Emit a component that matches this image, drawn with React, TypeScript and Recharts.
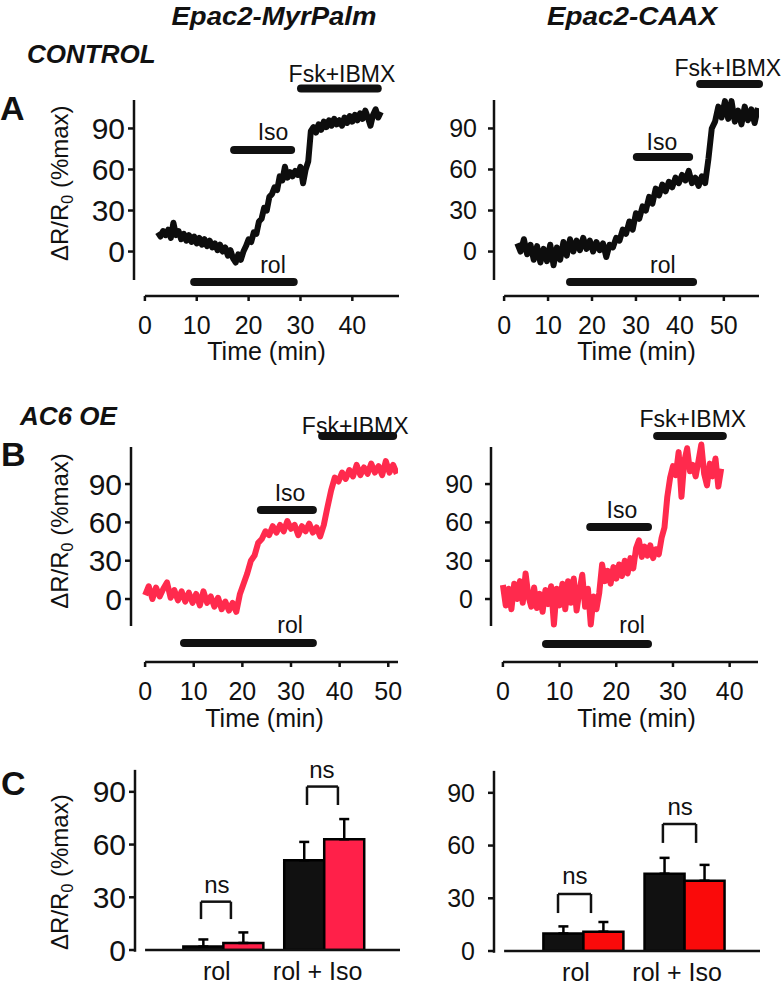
import React from "react";
import {
  ComposedChart,
  Line,
  Bar,
  XAxis,
  YAxis,
  ReferenceLine,
  ReferenceDot,
  ErrorBar,
} from "recharts";

const FONT = '"Liberation Sans", Arial, Helvetica, sans-serif';
const INK = "#111111";
const TRACE_BLACK = "#0d0d0d";
const TRACE_RED = "#ff2a4d";
const BAR_RED_MYR = "#ff2049";
const BAR_RED_CAAX = "#fa0a0a";

// ---- traces, ΔR/R0 (%max), sampled every `step` min from `start` ----
const aMyrStart = 2.5;
const aMyrStep = 0.5;
const aMyrValues = [
  14, 11, 15, 12, 16, 10, 21, 12, 15, 9,
  13, 8, 12, 7, 11, 6, 10, 5, 9, 4,
  8, 3, 6, 1, 5, 0, 3, -3, 1, -5,
  -8, -2, -6, 0, 4, 9, 7, 14, 13, 22,
  24, 32, 30, 40, 42, 47, 45, 55, 52, 62,
  54, 58, 55, 59, 56, 62, 50, 60, 66, 88,
  91, 87, 93, 89, 95, 91, 96, 92, 97, 93,
  96, 92, 98, 94, 99, 95, 100, 96, 101, 97,
  103, 98, 92, 100, 104, 98, 102,
];

const aCaaxStart = 3;
const aCaaxStep = 0.75;
const aCaaxValues = [
  6, 0, 9, -2, 5, -6, 4, -8, 2, -7,
  5, -10, 3, -6, 7, -3, 9, 0, 8, 1,
  10, 2, 8, 0, 7, 1, 6, -4, 5, 3,
  10, 8, 16, 13, 22, 16, 28, 24, 33, 30,
  40, 35, 46, 41, 49, 44, 51, 47, 54, 50,
  56, 52, 59, 50, 54, 48, 55, 50, 68, 90,
  95, 106, 98, 110, 97, 110, 95, 103, 93, 106,
  96, 104, 94, 105,
];

const bMyrStart = 0;
const bMyrStep = 0.75;
const bMyrValues = [
  3, 10, 0, 9, 2, 8, 13, 1, 7, -1,
  6, -2, 5, -3, 4, -5, 6, -3, 2, -6,
  1, -8, -2, -9, -3, -10, 4, 12, 20, 30,
  34, 44, 47, 53, 50, 57, 52, 58, 53, 61,
  55, 58, 50, 57, 53, 59, 52, 56, 49, 58,
  72, 85, 95, 92, 99, 94, 101, 96, 105, 97,
  103, 98, 106, 99, 104, 97, 108, 99, 105, 98,
];

const bCaaxStart = 0;
const bCaaxStep = 0.5;
const bCaaxValues = [
  11, -5, 8, -8, 12, 0, 14, -3, 20, 2,
  -6, 9, -7, 4, -10, 7, -4, 10, -20, 8,
  -5, 12, -8, 14, -3, 16, -9, 6, 19, -6,
  8, -20, 2, -8, 5, 27, 14, 22, 12, 25,
  16, 27, 18, 30, 20, 32, 24, 40, 46, 33,
  41, 34, 42, 32, 39, 35, 48, 56, 80, 95,
  104, 97, 115, 80, 108, 118, 100, 105, 96, 108,
  121, 98, 89, 106, 96, 110, 88, 102,
];

// ---- drug application windows (min) ----
const drugNames = ["rol", "Iso", "Fsk+IBMX"];
const aMyrFrom = [9.5, 17.2, 30.1];
const aMyrTo = [28.7, 28.2, 44.9];
const aCaaxFrom = [15.0, 30.2, 44.6];
const aCaaxTo = [43.0, 42.1, 58.0];
const bMyrFrom = [8.0, 23.8, 36.4];
const bMyrTo = [34.5, 34.5, 51.0];
const bCaaxFrom = [7.6, 15.4, 27.2];
const bCaaxTo = [25.6, 25.6, 38.8];

// ---- summary bars (mean, SEM) ----
const conditions = ["rol", "rol + Iso"];
const cMyrControl = [2, 51];
const cMyrControlSem = [4, 10.5];
const cMyrAc6 = [4, 63];
const cMyrAc6Sem = [6, 11.5];
const cCaaxControl = [10, 44];
const cCaaxControlSem = [4, 9];
const cCaaxAc6 = [11, 40];
const cCaaxAc6Sem = [5.5, 9];

const yTicks = [0, 30, 60, 90];

const toSeries = (start: number, step: number, values: number[]) =>
  values.map((v, i) => ({ t: +(start + i * step).toFixed(3), v }));

const toDrugs = (from: number[], to: number[]) =>
  drugNames.map((name, i) => ({ name, from: from[i], to: to[i] }));

const toRows = (ctrl: number[], ctrlSem: number[], ac6: number[], ac6Sem: number[]) =>
  conditions.map((name, i) => ({
    name,
    pos: i + 1,
    control: ctrl[i],
    controlErr: [0, ctrlSem[i]],
    ac6: ac6[i],
    ac6Err: [0, ac6Sem[i]],
  }));

// ---- panel layouts (page px, data-space annotation spots) ----
const aMyrLayout = {
  left: 0, top: 30, width: 410, height: 340,
  plot: { l: 134, r: 399, t: 50.5, b: 296 },
  xDomain: [-2.1, 49], yDomain: [-32.5, 147],
  xTicks: [0, 10, 20, 30, 40], yAxisSpan: [-20.8, 110.8],
  drugRows: [-22.3, 74.2, 119.2],
  drugText: [[24.7, -9.9], [24.7, 87.4], [38, 130.1]],
  yTickFont: 30, yTickMargin: 3, xAxisHeight: 64, timeDx: 0,
  yLabel: true, yLabelDy: 10,
};
const aCaaxLayout = {
  left: 390, top: 30, width: 393, height: 340,
  plot: { l: 494, r: 759, t: 50.5, b: 296 },
  xDomain: [-2.3, 58], yDomain: [-32.5, 147],
  xTicks: [0, 10, 20, 30, 40, 50], yAxisSpan: [-20.8, 110.8],
  drugRows: [-22.3, 69.1, 122.5],
  drugText: [[36.1, -9.9], [35.9, 80.1], [50.9, 134.2]],
  yTickFont: 25, yTickMargin: 11, xAxisHeight: 64, timeDx: 10,
  yLabel: false, yLabelDy: 0,
};
const bMyrLayout = {
  left: 0, top: 390, width: 410, height: 347,
  plot: { l: 131, r: 398, t: 400, b: 662 },
  xDomain: [-2.9, 52], yDomain: [-49.3, 155.8],
  xTicks: [0, 10, 20, 30, 40, 50], yAxisSpan: [-21.1, 119],
  drugRows: [-34.4, 69.7, 127.6],
  drugText: [[29.8, -20.4], [29.8, 83], [43.2, 135.4]],
  yTickFont: 30, yTickMargin: 3, xAxisHeight: 65, timeDx: 0,
  yLabel: true, yLabelDy: 0,
};
const bCaaxLayout = {
  left: 390, top: 390, width: 393, height: 347,
  plot: { l: 491, r: 758, t: 400, b: 662 },
  xDomain: [-2.1, 45], yDomain: [-49.3, 155.8],
  xTicks: [0, 10, 20, 30, 40], yAxisSpan: [-21.1, 119],
  drugRows: [-35.2, 56.4, 127.6],
  drugText: [[22.8, -20.4], [21, 69.7], [33.5, 140.9]],
  yTickFont: 25, yTickMargin: 12, xAxisHeight: 65, timeDx: 12,
  yLabel: false, yLabelDy: 0,
};
const cMyrLayout = {
  left: 0, top: 745, width: 410, height: 240,
  plot: { l: 135, r: 400, t: 760.2, b: 950 },
  yDomain: [0, 108], yAxisSpan: [-1, 102.5],
  catPadding: { left: 38.35, right: 24.9 },
  brackets: [
    { from: 0.775, to: 1.072, top: 27.5, foot: 17.6, tx: 0.933, ty: 37 },
    { from: 1.827, to: 2.134, top: 93, foot: 82.5, tx: 1.975, ty: 103 },
  ],
  yTickFont: 30, yTickMargin: 3, yLabel: true, yLabelDy: 17,
};
const cCaaxLayout = {
  left: 390, top: 745, width: 393, height: 240,
  plot: { l: 494, r: 760, t: 761.2, b: 951 },
  yDomain: [0, 108], yAxisSpan: [-1, 102.5],
  catPadding: { left: 38.4, right: 25.3 },
  brackets: [
    { from: 0.753, to: 1.079, top: 32.4, foot: 21.6, tx: 0.92, ty: 42.7 },
    { from: 1.79, to: 2.118, top: 72.3, foot: 61.5, tx: 1.96, ty: 82.5 },
  ],
  yTickFont: 25, yTickMargin: 13, yLabel: false, yLabelDy: 0,
};
const posDomain = [0.12, 2.75];
const posAxisStart = 0.22;

const axisStroke = { stroke: INK, strokeWidth: 2.5 };

const yTitle = (dy: number) => (props: any) => {
  const vb = props.viewBox || { x: 0, y: 0, width: 0, height: 0 };
  const x = vb.x + 68;
  const y = vb.y + vb.height / 2 + dy;
  return (
    <text
      x={x}
      y={y}
      transform={`rotate(-90 ${x} ${y})`}
      textAnchor="middle"
      fontFamily={FONT}
      fontSize={24}
      fill={INK}
    >
      ΔR/R
      <tspan fontSize={16} dy={5}>0</tspan>
      <tspan dy={-5}> (%max)</tspan>
    </text>
  );
};

const timeTitle = (dx: number) => (props: any) => {
  const vb = props.viewBox || { x: 0, y: 0, width: 0, height: 0 };
  return (
    <text
      x={vb.x + vb.width / 2 + dx}
      y={vb.y + vb.height}
      textAnchor="middle"
      fontFamily={FONT}
      fontSize={25}
      fill={INK}
    >
      Time (min)
    </text>
  );
};

function TracePanel({ layout, data, drugs, color }: any) {
  const { left, top, width, height, plot } = layout;
  const margin = {
    top: plot.t - top,
    right: left + width - plot.r,
    bottom: top + height - plot.b - layout.xAxisHeight,
    left: 0,
  };
  const [x0, x1] = layout.xDomain;
  const [y0] = layout.yDomain;
  return (
    <div style={{ position: "absolute", left, top }}>
      <ComposedChart width={width} height={height} data={data} margin={margin}>
        <XAxis
          type="number"
          dataKey="t"
          domain={layout.xDomain}
          ticks={layout.xTicks}
          interval={0}
          allowDataOverflow
          axisLine={false}
          tickLine={axisStroke}
          tickSize={5}
          tickMargin={15}
          height={layout.xAxisHeight}
          tick={{ fontSize: 25, fill: INK, fontFamily: FONT }}
          label={timeTitle(layout.timeDx)}
        />
        <YAxis
          type="number"
          domain={layout.yDomain}
          ticks={yTicks}
          interval={0}
          allowDataOverflow
          width={plot.l - left}
          axisLine={false}
          tickLine={axisStroke}
          tickSize={6}
          tickMargin={layout.yTickMargin}
          tick={{ fontSize: layout.yTickFont, fill: INK, fontFamily: FONT }}
          label={layout.yLabel ? yTitle(layout.yLabelDy) : undefined}
        />
        <ReferenceLine
          segment={[{ x: x0, y: layout.yAxisSpan[0] }, { x: x0, y: layout.yAxisSpan[1] }]}
          {...axisStroke}
          ifOverflow="visible"
        />
        <ReferenceLine
          segment={[{ x: 0, y: y0 }, { x: x1, y: y0 }]}
          {...axisStroke}
          ifOverflow="visible"
        />
        {drugs.map((d: any, i: number) => (
          <ReferenceLine
            key={d.name}
            segment={[{ x: d.from, y: layout.drugRows[i] }, { x: d.to, y: layout.drugRows[i] }]}
            stroke={INK}
            strokeWidth={8}
            strokeLinecap="round"
            ifOverflow="visible"
          />
        ))}
        {drugs.map((d: any, i: number) => (
          <ReferenceDot
            key={d.name + "-label"}
            x={layout.drugText[i][0]}
            y={layout.drugText[i][1]}
            r={0}
            fill="none"
            stroke="none"
            ifOverflow="visible"
            label={{ value: d.name, position: "center", fontSize: 23, fill: INK, fontFamily: FONT }}
          />
        ))}
        <Line
          type="linear"
          dataKey="v"
          stroke={color}
          strokeWidth={6}
          strokeLinejoin="round"
          dot={false}
          isAnimationActive={false}
        />
      </ComposedChart>
    </div>
  );
}

function SummaryPanel({ layout, rows, redFill }: any) {
  const { left, top, width, height, plot } = layout;
  const xAxisHeight = 35;
  const margin = {
    top: plot.t - top,
    right: left + width - plot.r,
    bottom: top + height - plot.b - xAxisHeight,
    left: 0,
  };
  const x0 = posDomain[0];
  return (
    <div style={{ position: "absolute", left, top }}>
      <ComposedChart width={width} height={height} data={rows} margin={margin} barGap={0}>
        <XAxis
          type="category"
          dataKey="name"
          padding={layout.catPadding}
          interval={0}
          axisLine={false}
          tickLine={false}
          tickSize={0}
          tickMargin={12}
          height={xAxisHeight}
          tick={{ fontSize: 25, fill: INK, fontFamily: FONT, dx: -7 }}
        />
        <XAxis
          xAxisId="pos"
          type="number"
          dataKey="pos"
          domain={posDomain}
          allowDataOverflow
          hide
        />
        <YAxis
          type="number"
          domain={layout.yDomain}
          ticks={yTicks}
          interval={0}
          allowDataOverflow
          width={plot.l - left}
          axisLine={false}
          tickLine={axisStroke}
          tickSize={6}
          tickMargin={layout.yTickMargin}
          tick={{ fontSize: layout.yTickFont, fill: INK, fontFamily: FONT }}
          label={layout.yLabel ? yTitle(layout.yLabelDy) : undefined}
        />
        <Bar dataKey="control" fill={INK} stroke="#000" strokeWidth={2.5} barSize={40} isAnimationActive={false}>
          <ErrorBar dataKey="controlErr" width={5} stroke="#000" strokeWidth={2.5} direction="y" isAnimationActive={false} />
        </Bar>
        <Bar dataKey="ac6" fill={redFill} stroke="#000" strokeWidth={2.5} barSize={40} isAnimationActive={false}>
          <ErrorBar dataKey="ac6Err" width={5} stroke="#000" strokeWidth={2.5} direction="y" isAnimationActive={false} />
        </Bar>
        <ReferenceLine
          xAxisId="pos"
          segment={[{ x: x0, y: layout.yAxisSpan[0] }, { x: x0, y: layout.yAxisSpan[1] }]}
          {...axisStroke}
          ifOverflow="visible"
        />
        <ReferenceLine
          xAxisId="pos"
          segment={[{ x: posAxisStart, y: 0 }, { x: posDomain[1], y: 0 }]}
          {...axisStroke}
          ifOverflow="visible"
        />
        {layout.brackets.map((b: any, i: number) => (
          <ReferenceLine
            key={"bl" + i}
            xAxisId="pos"
            segment={[{ x: b.from, y: b.foot }, { x: b.from, y: b.top }]}
            {...axisStroke}
            ifOverflow="visible"
          />
        ))}
        {layout.brackets.map((b: any, i: number) => (
          <ReferenceLine
            key={"bt" + i}
            xAxisId="pos"
            segment={[{ x: b.from, y: b.top }, { x: b.to, y: b.top }]}
            {...axisStroke}
            ifOverflow="visible"
          />
        ))}
        {layout.brackets.map((b: any, i: number) => (
          <ReferenceLine
            key={"br" + i}
            xAxisId="pos"
            segment={[{ x: b.to, y: b.top }, { x: b.to, y: b.foot }]}
            {...axisStroke}
            ifOverflow="visible"
          />
        ))}
        {layout.brackets.map((b: any, i: number) => (
          <ReferenceDot
            key={"ns" + i}
            xAxisId="pos"
            x={b.tx}
            y={b.ty}
            r={0}
            fill="none"
            stroke="none"
            ifOverflow="visible"
            label={{ value: "ns", position: "center", fontSize: 24, fill: INK, fontFamily: FONT }}
          />
        ))}
      </ComposedChart>
    </div>
  );
}

export default function App() {
  const headStyle = { fontFamily: FONT, fontWeight: 700, fontStyle: "italic", fill: INK } as const;
  const letterStyle = { fontFamily: FONT, fontWeight: 700, fill: INK, fontSize: 34 } as const;
  return (
    <div style={{ position: "relative", width: 783, height: 985, background: "#fff", overflow: "hidden" }}>
      <style>{"body{margin:0}"}</style>
      <svg width={783} height={985} style={{ position: "absolute", left: 0, top: 0 }}>
        <text x={274} y={25} textAnchor="middle" fontSize={26} textLength={205} lengthAdjust="spacingAndGlyphs" {...headStyle}>
          Epac2-MyrPalm
        </text>
        <text x={632} y={25} textAnchor="middle" fontSize={26} textLength={170} lengthAdjust="spacingAndGlyphs" {...headStyle}>
          Epac2-CAAX
        </text>
        <text x={27} y={63} fontSize={26} {...headStyle}>CONTROL</text>
        <text x={20} y={425} fontSize={26} {...headStyle}>AC6 OE</text>
        <text x={0} y={120} {...letterStyle}>A</text>
        <text x={1} y={466} {...letterStyle}>B</text>
        <text x={1} y={795} {...letterStyle}>C</text>
      </svg>
      <TracePanel
        layout={aMyrLayout}
        data={toSeries(aMyrStart, aMyrStep, aMyrValues)}
        drugs={toDrugs(aMyrFrom, aMyrTo)}
        color={TRACE_BLACK}
      />
      <TracePanel
        layout={aCaaxLayout}
        data={toSeries(aCaaxStart, aCaaxStep, aCaaxValues)}
        drugs={toDrugs(aCaaxFrom, aCaaxTo)}
        color={TRACE_BLACK}
      />
      <TracePanel
        layout={bMyrLayout}
        data={toSeries(bMyrStart, bMyrStep, bMyrValues)}
        drugs={toDrugs(bMyrFrom, bMyrTo)}
        color={TRACE_RED}
      />
      <TracePanel
        layout={bCaaxLayout}
        data={toSeries(bCaaxStart, bCaaxStep, bCaaxValues)}
        drugs={toDrugs(bCaaxFrom, bCaaxTo)}
        color={TRACE_RED}
      />
      <SummaryPanel
        layout={cMyrLayout}
        rows={toRows(cMyrControl, cMyrControlSem, cMyrAc6, cMyrAc6Sem)}
        redFill={BAR_RED_MYR}
      />
      <SummaryPanel
        layout={cCaaxLayout}
        rows={toRows(cCaaxControl, cCaaxControlSem, cCaaxAc6, cCaaxAc6Sem)}
        redFill={BAR_RED_CAAX}
      />
    </div>
  );
}
